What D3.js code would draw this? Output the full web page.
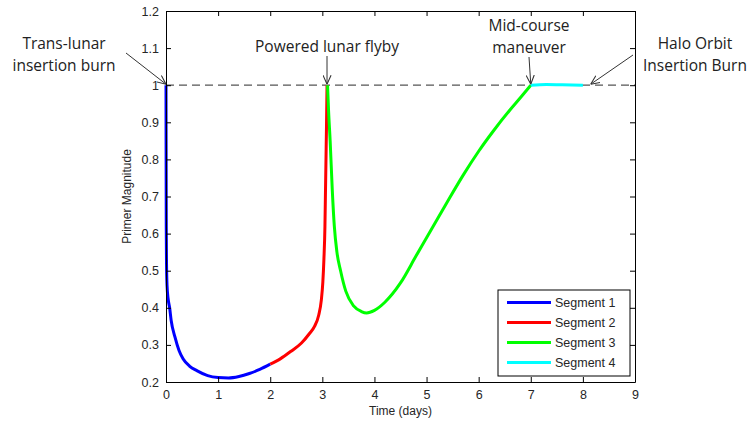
<!DOCTYPE html>
<html>
<head>
<meta charset="utf-8">
<script src="https://cdn.jsdelivr.net/npm/d3@7"></script>
<style>
  html, body { margin: 0; padding: 0; background: #fff; }
  svg { display: block; }
  .tick text { font-family: "Liberation Sans", Arial, sans-serif; font-size: 12.5px; fill: #262626; }
</style>
</head>
<body>
<svg id="chart" width="753" height="425"></svg>
<script>
// Primer vector magnitude along the transfer, one array per trajectory segment
const seg1Time = [0, 0.002, 0.005, 0.01, 0.02, 0.04, 0.07, 0.1, 0.17, 0.25, 0.33, 0.45, 0.6, 0.8, 1.0, 1.2, 1.4, 1.6, 1.8, 2.0];
const seg1Mag  = [1.0, 0.84, 0.62, 0.52, 0.46, 0.425, 0.4, 0.365, 0.322, 0.285, 0.262, 0.243, 0.23, 0.217, 0.212, 0.211, 0.215, 0.223, 0.234, 0.248];

const seg2Time = [2.0, 2.2, 2.4, 2.6, 2.75, 2.85, 2.93, 2.98, 3.01, 3.03, 3.05, 3.06, 3.07, 3.08, 3.09];
const seg2Mag  = [0.248, 0.263, 0.283, 0.305, 0.33, 0.35, 0.38, 0.42, 0.47, 0.53, 0.62, 0.71, 0.8, 0.89, 1.0];

const seg3Time = [3.1, 3.12, 3.15, 3.19, 3.23, 3.28, 3.35, 3.45, 3.6, 3.75, 3.85, 4.0, 4.2, 4.5, 4.8, 5.1, 5.4, 5.7, 6.0, 6.3, 6.6, 6.8, 7.0];
const seg3Mag  = [1.0, 0.93, 0.85, 0.72, 0.62, 0.55, 0.5, 0.445, 0.405, 0.39, 0.386, 0.393, 0.415, 0.467, 0.54, 0.613, 0.686, 0.757, 0.822, 0.88, 0.933, 0.966, 1.0];

const seg4Time = [7.0, 7.3, 7.6, 8.0];
const seg4Mag  = [1.0, 1.002, 1.001, 1.0];

const segmentNames  = ["Segment 1", "Segment 2", "Segment 3", "Segment 4"];
const segmentColors = ["#0000ff", "#ff0000", "#00ff00", "#00ffff"];

const xTicks = [0, 1, 2, 3, 4, 5, 6, 7, 8, 9];
const yTicks = [0.2, 0.3, 0.4, 0.5, 0.6, 0.7, 0.8, 0.9, 1.0, 1.1, 1.2];
const referenceLevel = 1.0;

// Event annotations: label lines, text anchor in px, arrow tail in px, arrow tip in data units
const eventLabels = [
  { lines: ["Trans-lunar", "insertion burn"], textX: 64, textY: 49, from: [126, 53], tipT: 0, tipV: 1.0 },
  { lines: ["Powered lunar flyby"], textX: 327, textY: 52, from: [327, 56], tipT: 3.09, tipV: 1.0 },
  { lines: ["Mid-course", "maneuver"], textX: 529, textY: 31, from: [529, 57], tipT: 7.0, tipV: 1.0 },
  { lines: ["Halo Orbit", "Insertion Burn"], textX: 695, textY: 49, from: [633, 55], tipT: 8.15, tipV: 1.0 }
];

const segments = [
  seg1Time.map((t, i) => [t, seg1Mag[i]]),
  seg2Time.map((t, i) => [t, seg2Mag[i]]),
  seg3Time.map((t, i) => [t, seg3Mag[i]]),
  seg4Time.map((t, i) => [t, seg4Mag[i]])
];

const svg = d3.select("#chart");
const margin = { left: 166, top: 11, right: 753 - 635, bottom: 425 - 382 };
const width = 753 - margin.left - margin.right;
const height = 425 - margin.top - margin.bottom;

const x = d3.scaleLinear().domain([0, 9]).range([0, width]);
const y = d3.scaleLinear().domain([0.2, 1.2]).range([height, 0]);

const g = svg.append("g").attr("transform", `translate(${margin.left},${margin.top})`);

g.append("rect").attr("x", 0).attr("y", 0).attr("width", width).attr("height", height)
  .attr("fill", "#fff").attr("stroke", "none");

// Dashed reference level
g.append("line")
  .attr("x1", x(0)).attr("x2", x(9))
  .attr("y1", y(referenceLevel)).attr("y2", y(referenceLevel))
  .attr("stroke", "#555").attr("stroke-width", 1.3).attr("stroke-dasharray", "8,5");

// Segment curves
const line = d3.line().x(d => x(d[0])).y(d => y(d[1])).curve(d3.curveMonotoneX);
segments.forEach((pts, i) => {
  g.append("path").datum(pts)
    .attr("d", line)
    .attr("fill", "none")
    .attr("stroke", segmentColors[i])
    .attr("stroke-width", 3)
    .attr("stroke-linejoin", "round");
});

// Axes with inward ticks, mirrored on top and right
const fmtY = d => (d === 1 ? "1" : d3.format(".1f")(d));
const axB = g.append("g").attr("transform", `translate(0,${height})`)
  .call(d3.axisBottom(x).tickValues(xTicks).tickSizeInner(-5).tickSizeOuter(0).tickPadding(8).tickFormat(d3.format("d")));
const axL = g.append("g")
  .call(d3.axisLeft(y).tickValues(yTicks).tickSizeInner(-5).tickSizeOuter(0).tickPadding(7).tickFormat(fmtY));
const axT = g.append("g")
  .call(d3.axisTop(x).tickValues(xTicks).tickSizeInner(-5).tickSizeOuter(0).tickFormat(""));
const axR = g.append("g").attr("transform", `translate(${width},0)`)
  .call(d3.axisRight(y).tickValues(yTicks).tickSizeInner(-5).tickSizeOuter(0).tickFormat(""));
[axB, axL, axT, axR].forEach(a => {
  a.selectAll(".domain").attr("stroke", "#000").attr("stroke-width", 1);
  a.selectAll(".tick line").attr("stroke", "#000");
});

// Axis titles
svg.append("text")
  .attr("x", margin.left + width / 2).attr("y", 415)
  .attr("text-anchor", "middle")
  .style("font-family", "'Liberation Sans', Arial, sans-serif").style("font-size", "12px").attr("fill", "#262626")
  .text("Time (days)");
svg.append("text")
  .attr("transform", `translate(131,${margin.top + height / 2}) rotate(-90)`)
  .attr("text-anchor", "middle")
  .style("font-family", "'Liberation Sans', Arial, sans-serif").style("font-size", "12px").attr("fill", "#262626")
  .text("Primer Magnitude");

// Legend
const lg = svg.append("g").attr("transform", "translate(498,290)");
lg.append("rect").attr("width", 132).attr("height", 86).attr("fill", "#fff").attr("stroke", "#000").attr("stroke-width", 1);
segmentNames.forEach((name, i) => {
  const yy = 12.5 + i * 20;
  lg.append("line").attr("x1", 9).attr("x2", 53).attr("y1", yy).attr("y2", yy)
    .attr("stroke", segmentColors[i]).attr("stroke-width", 3);
  lg.append("text").attr("x", 57).attr("y", yy + 4.5)
    .style("font-family", "'Liberation Sans', Arial, sans-serif").style("font-size", "12.5px").attr("fill", "#262626")
    .text(name);
});

// Event annotations with arrows
const defs = svg.append("defs");
defs.append("marker").attr("id", "arrowHead")
  .attr("viewBox", "0 0 10 10").attr("refX", 10).attr("refY", 5)
  .attr("markerWidth", 9).attr("markerHeight", 9).attr("markerUnits", "userSpaceOnUse")
  .attr("orient", "auto")
  .append("path").attr("d", "M0,0.5 L10,5 L0,9.5").attr("fill", "none").attr("stroke", "#333").attr("stroke-width", 1.2);

eventLabels.forEach(ev => {
  const tx = margin.left + x(ev.tipT);
  const ty = margin.top + y(ev.tipV) - 1;
  svg.append("line")
    .attr("x1", ev.from[0]).attr("y1", ev.from[1]).attr("x2", tx).attr("y2", ty)
    .attr("stroke", "#333").attr("stroke-width", 1).attr("marker-end", "url(#arrowHead)");
  const t = svg.append("text")
    .attr("x", ev.textX).attr("y", ev.textY).attr("text-anchor", "middle")
    .style("font-family", "'Open Sans', sans-serif").style("font-size", "15.5px").attr("fill", "#222");
  ev.lines.forEach((l, i) => {
    t.append("tspan").attr("x", ev.textX).attr("dy", i === 0 ? 0 : 22).text(l);
  });
});
</script>
</body>
</html>
